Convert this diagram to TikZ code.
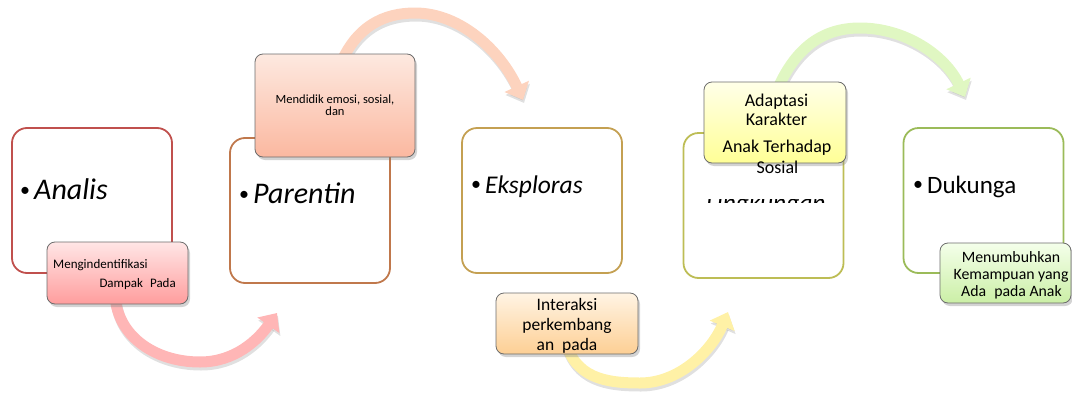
\documentclass[tikz,border=0pt]{standalone}
\usepackage{fontspec}
\setmainfont{Carlito}
\usetikzlibrary{arrows.meta,shadows}
\definecolor{bRed}{HTML}{C0504D}
\definecolor{bBrown}{HTML}{C0784C}
\definecolor{bGold}{HTML}{C4A052}
\definecolor{bOlive}{HTML}{BDBD55}
\definecolor{bGreen}{HTML}{9BBB59}
\definecolor{aPink}{HTML}{FFB6B6}
\definecolor{aPeach}{HTML}{FDD3BE}
\definecolor{aYellow}{HTML}{FFF1A6}
\definecolor{aGreen}{HTML}{E0F7C2}
\definecolor{s1t}{HTML}{FFE6E6}\definecolor{s1b}{HTML}{FF9D9D}
\definecolor{s2t}{HTML}{FDE9E0}\definecolor{s2b}{HTML}{FBB8A0}
\definecolor{s3t}{HTML}{FFF4E4}\definecolor{s3b}{HTML}{FDCF94}
\definecolor{s4t}{HTML}{FFFFE8}\definecolor{s4b}{HTML}{FFFF96}
\definecolor{s5t}{HTML}{F4FFEA}\definecolor{s5b}{HTML}{CBEFA6}
\newcommand{\bul}{\raisebox{2.5pt}{\fontsize{20}{20}\selectfont•}\kern4pt}
\tikzset{
  bigbox/.style={draw, line width=1.8pt, rounded corners=15pt, fill=white, inner sep=0pt, minimum width=160pt, minimum height=145pt},
  smallbox/.style={draw=gray!85!black, line width=0.8pt, rounded corners=8pt, inner sep=0pt,
     drop shadow={opacity=0.35, shadow xshift=2pt, shadow yshift=-3pt}},
  bigtxt/.style={anchor=base west, inner sep=0pt, font=\fontsize{30}{36}\selectfont},
  midtxt/.style={anchor=base west, inner sep=0pt, font=\fontsize{25.5}{30}\selectfont},
  sline/.style={anchor=base, inner sep=0pt},
  arr/.style={line width=11pt, -{Triangle[width=26pt,length=15pt]}},
  arrshadow/.style={line width=11pt, draw=black!40, opacity=0.3, -{Triangle[width=26pt,length=15pt]}},
}
\begin{document}
\begin{tikzpicture}[x=1pt,y=-1pt]
\useasboundingbox (0,0) rectangle (1072,394);
% arrows
\draw[arrshadow, transform canvas={xshift=1pt,yshift=-3pt}] (115,292) .. controls (115,334) and (153,362) .. (200,362) .. controls (235,362) and (258,340) .. (277,313);
\draw[arr, draw=aPink] (115,292) .. controls (115,334) and (153,362) .. (200,362) .. controls (235,362) and (258,340) .. (277,313);
\draw[arrshadow, transform canvas={xshift=1pt,yshift=-3pt}] (338,70) .. controls (355,25) and (385,13) .. (415,13) .. controls (460,13) and (500,50) .. (523,100);
\draw[arr, draw=aPeach] (338,70) .. controls (355,25) and (385,13) .. (415,13) .. controls (460,13) and (500,50) .. (523,100);
\draw[arrshadow, transform canvas={xshift=1pt,yshift=-3pt}] (565,340) .. controls (575,378) and (605,383) .. (640,383) .. controls (680,383) and (712,350) .. (728,312);
\draw[arr, draw=aYellow] (565,340) .. controls (575,378) and (605,383) .. (640,383) .. controls (680,383) and (712,350) .. (728,312);
\draw[arrshadow, transform canvas={xshift=1pt,yshift=-3pt}] (775,95) .. controls (795,45) and (825,28) .. (860,28) .. controls (905,28) and (945,55) .. (965,97);
\draw[arr, draw=aGreen] (775,95) .. controls (795,45) and (825,28) .. (860,28) .. controls (905,28) and (945,55) .. (965,97);
% big boxes
\node[bigbox, draw=bRed] (b1) at (92,200.5) {};
\node[bigbox, draw=bBrown] (b2) at (310,210.5) {};
\node[bigbox, draw=bGold] (b3) at (542,200.5) {};
\node[bigbox, draw=bOlive] (b4) at (763.5,205.5) {};
\node[bigbox, draw=bGreen] (b5) at (983.5,200.5) {};
% big texts
\node[bigtxt] (t1) at (20,199) {\bul\textit{Analis}};
\node[bigtxt] (t2) at (239,203) {\bul\textit{Parentin}};
\node[midtxt] (t3) at (471,193) {\bul\textit{Eksploras}};
\begin{scope}
\clip (700,199.5) rectangle (835,202.5);
\node[midtxt] (t4) at (706,211) {\textit{Lingkungan}};
\end{scope}
\node[midtxt, font=\fontsize{25}{30}\selectfont] (t5) at (913,193) {\bul Dukunga};
% small boxes
\node[smallbox, top color=s1t, bottom color=s1b, minimum width=141pt, minimum height=62pt] (s1) at (117.5,273) {};
\node[smallbox, top color=s2t, bottom color=s2b, minimum width=160pt, minimum height=103pt] (s2) at (335,105.5) {};
\node[smallbox, top color=s3t, bottom color=s3b, minimum width=142pt, minimum height=61pt] (s3) at (567,323.5) {};
\node[smallbox, top color=s4t, bottom color=s4b, minimum width=142pt, minimum height=81pt] (s4) at (775,122.5) {};
\node[smallbox, top color=s5t, bottom color=s5b, minimum width=131pt, minimum height=60pt] (s5) at (1005.5,273) {};
% small texts
\begin{scope}[font=\fontsize{13}{15}\selectfont]
\node[anchor=base west, inner sep=0pt] (s1a) at (53,268) {Mengindentifikasi};
\node[anchor=base east, inner sep=0pt] (s1b) at (176,287) {Dampak\hspace{7pt}Pada};
\end{scope}
\begin{scope}[font=\fontsize{12.5}{13}\selectfont]
\node[sline] (s2a) at (335,103) {Mendidik emosi, sosial,};
\node[sline] (s2b) at (335,115) {dan};
\end{scope}
\begin{scope}[font=\fontsize{17.5}{20}\selectfont]
\node[sline] (s3a) at (567,310) {Interaksi};
\node[sline] (s3b) at (567,330) {perkembang};
\node[sline] (s3c) at (567,350) {an\hspace{8pt}pada};
\end{scope}
\begin{scope}[font=\fontsize{18}{21}\selectfont]
\node[sline] (s4a) at (776.5,106) {Adaptasi};
\node[sline] (s4b) at (776.5,125) {Karakter};
\node[sline] (s4c) at (777,152) {Anak Terhadap};
\node[sline] (s4d) at (777.5,173) {Sosial};
\end{scope}
\begin{scope}[font=\fontsize{15.8}{18}\selectfont]
\node[sline] (s5a) at (1011,262) {Menumbuhkan};
\node[sline] (s5b) at (1011,279) {Kemampuan yang};
\node[sline] (s5c) at (1011.5,296) {Ada\hspace{8pt}pada Anak};
\end{scope}
\end{tikzpicture}
\end{document}
